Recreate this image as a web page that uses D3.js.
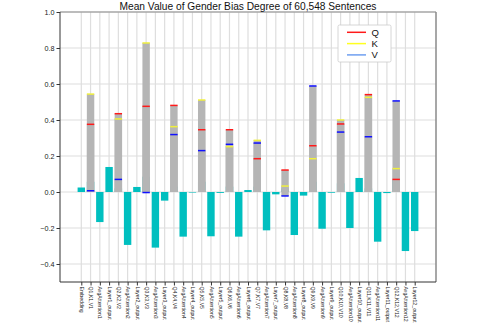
<!DOCTYPE html>
<html>
<head>
<meta charset="utf-8">
<script src="https://d3js.org/d3.v7.min.js"></script>
<style>
  body { margin: 0; background: #fff; }
  svg { display: block; font-family: "Liberation Sans", Arial, sans-serif; }
</style>
</head>
<body>
<div id="chart"></div>
<script>
// categories along the x axis
const categories = [
  'Embedding',
  'Q1,K1,V1', 'AvgAttention1', 'Layer1_output',
  'Q2,K2,V2', 'AvgAttention2', 'Layer2_output',
  'Q3,K3,V3', 'AvgAttention3', 'Layer3_output',
  'Q4,K4,V4', 'AvgAttention4', 'Layer4_output',
  'Q5,K5,V5', 'AvgAttention5', 'Layer5_output',
  'Q6,K6,V6', 'AvgAttention6', 'Layer6_output',
  'Q7,K7,V7', 'AvgAttention7', 'Layer7_output',
  'Q8,K8,V8', 'AvgAttention8', 'Layer8_output',
  'Q9,K9,V9', 'AvgAttention9', 'Layer9_output',
  'Q10,K10,V10', 'AvgAttention10', 'Layer10_output',
  'Q11,K11,V11', 'AvgAttention11', 'Layer11_output',
  'Q12,K12,V12', 'AvgAttention12', 'Layer12_output'
];

// teal bar per category
const meanValues = [
  0.025,
  0.057, -0.167, 0.139,
  0.020, -0.294, 0.028,
  0.085, -0.309, -0.048,
  0.030, -0.248, -0.003,
  0.057, -0.246, -0.005,
  0.030, -0.248, 0.011,
  0.030, -0.213, -0.013,
  0.020, -0.239, -0.020,
  0.057, -0.204, -0.004,
  0.048, -0.200, 0.078,
  0.020, -0.276, -0.006,
  0.067, -0.328, -0.217
];

// Q, K, V values for layers 1..12
const qkvLabels = ['Q1,K1,V1', 'Q2,K2,V2', 'Q3,K3,V3', 'Q4,K4,V4', 'Q5,K5,V5', 'Q6,K6,V6',
  'Q7,K7,V7', 'Q8,K8,V8', 'Q9,K9,V9', 'Q10,K10,V10', 'Q11,K11,V11', 'Q12,K12,V12'];
const qValues = [0.376, 0.435, 0.476, 0.481, 0.346, 0.346, 0.185, 0.122, 0.257, 0.378, 0.541, 0.070];
const kValues = [0.544, 0.406, 0.828, 0.363, 0.511, 0.252, 0.287, 0.033, 0.185, 0.400, 0.526, 0.130];
const vValues = [0.007, 0.070, -0.003, 0.319, 0.230, 0.265, 0.272, -0.022, 0.589, 0.333, 0.307, 0.506];

const yTicks = [-0.4, -0.2, 0.0, 0.2, 0.4, 0.6, 0.8, 1.0];

const series = [
  {name: 'Q', values: qValues, color: '#ff1a1a', legendColor: '#ff1a1a'},
  {name: 'K', values: kValues, color: '#f0f03c', legendColor: '#ffff20'},
  {name: 'V', values: vValues, color: '#1010ff', legendColor: '#6f9ff0'}
];

const width = 485, height = 326;
const margin = {top: 12, right: 49, bottom: 44, left: 60};

const svg = d3.select('#chart').append('svg')
    .attr('width', width)
    .attr('height', height);

const x = d3.scaleLinear()
    .domain([-2.3, categories.length - 1 + 2.3])
    .range([margin.left, width - margin.right]);

const y = d3.scaleLinear()
    .domain([-0.5, 1.0])
    .range([height - margin.bottom, margin.top]);

const barW = (x(1) - x(0)) * 0.8;

// grid
svg.append('g')
    .selectAll('line')
    .data(categories)
    .join('line')
    .attr('x1', (d, i) => x(i)).attr('x2', (d, i) => x(i))
    .attr('y1', y.range()[1]).attr('y2', y.range()[0])
    .attr('stroke', '#dedede')
    .attr('stroke-width', 1.2);

svg.append('g')
    .selectAll('line')
    .data(yTicks)
    .join('line')
    .attr('x1', x.range()[0]).attr('x2', x.range()[1])
    .attr('y1', d => y(d)).attr('y2', d => y(d))
    .attr('stroke', '#dedede')
    .attr('stroke-width', 1.2);

// teal bars
svg.append('g')
    .selectAll('rect')
    .data(meanValues)
    .join('rect')
    .attr('x', (d, i) => x(i) - barW / 2)
    .attr('width', barW)
    .attr('y', d => y(Math.max(0, d)))
    .attr('height', d => Math.abs(y(d) - y(0)))
    .attr('fill', '#00bfbf');

// gray bars for Q, K, V
const qkvRows = [];
series.forEach(s => {
    s.values.forEach((v, j) => {
        qkvRows.push({idx: categories.indexOf(qkvLabels[j]), value: v, color: s.color});
    });
});

svg.append('g')
    .selectAll('rect')
    .data(qkvRows)
    .join('rect')
    .attr('x', d => x(d.idx) - barW / 2)
    .attr('width', barW)
    .attr('y', d => y(Math.max(0, d.value)))
    .attr('height', d => Math.abs(y(d.value) - y(0)))
    .attr('fill', '#b5b5b5');

svg.append('g')
    .selectAll('line')
    .data(qkvRows)
    .join('line')
    .attr('x1', d => x(d.idx) - barW / 2)
    .attr('x2', d => x(d.idx) + barW / 2)
    .attr('y1', d => y(d.value))
    .attr('y2', d => y(d.value))
    .attr('stroke', d => d.color)
    .attr('stroke-width', 1.5);

// axes
const yAxis = svg.append('g')
    .attr('transform', `translate(${margin.left},0)`)
    .call(d3.axisLeft(y).tickValues(yTicks).tickFormat(d3.format('.1f')).tickSize(3.5).tickPadding(2));
yAxis.select('.domain').remove();
yAxis.selectAll('text').attr('font-size', 7.2).attr('fill', '#222').attr('font-family', 'Liberation Sans, Arial, sans-serif');
yAxis.selectAll('line').attr('stroke', '#333');

const xAxis = svg.append('g')
    .attr('transform', `translate(0,${height - margin.bottom})`)
    .call(d3.axisBottom(x).tickValues(d3.range(categories.length)).tickFormat(i => categories[i]).tickSize(3.5));
xAxis.select('.domain').remove();
xAxis.selectAll('line').attr('stroke', '#333');
xAxis.selectAll('text')
    .attr('font-size', 5.2)
    .attr('fill', '#222')
    .attr('font-family', 'Liberation Sans, Arial, sans-serif')
    .attr('text-anchor', 'start')
    .attr('transform', 'rotate(90)')
    .attr('x', 4.5)
    .attr('y', 0)
    .attr('dy', '0.35em');

// frame
const [x0, x1] = x.range();
const [yb, yt] = y.range();
svg.append('line').attr('x1', x0).attr('x2', x1).attr('y1', yt).attr('y2', yt).attr('stroke', '#8a8a8a').attr('stroke-width', 1.2);
svg.append('line').attr('x1', x1).attr('x2', x1).attr('y1', yt).attr('y2', yb).attr('stroke', '#8a8a8a').attr('stroke-width', 1.5);
svg.append('line').attr('x1', x0).attr('x2', x0).attr('y1', yt).attr('y2', yb).attr('stroke', '#333').attr('stroke-width', 1);
svg.append('line').attr('x1', x0).attr('x2', x1).attr('y1', yb).attr('y2', yb).attr('stroke', '#333').attr('stroke-width', 1);

// title
svg.append('text')
    .attr('x', (x0 + x1) / 2)
    .attr('y', 9.5)
    .attr('text-anchor', 'middle')
    .attr('font-size', 10.2)
    .attr('fill', '#111')
    .text('Mean Value of Gender Bias Degree of 60,548 Sentences');

// legend
const legend = svg.append('g').attr('transform', 'translate(338,25)');
legend.append('rect')
    .attr('width', 53).attr('height', 37)
    .attr('rx', 1.5)
    .attr('fill', '#fff')
    .attr('stroke', '#cccccc')
    .attr('stroke-width', 0.8);

const items = legend.selectAll('.item')
    .data(series)
    .join('g')
    .attr('class', 'item')
    .attr('transform', (d, i) => `translate(0,${7.3 + i * 11.3})`);
items.append('line')
    .attr('x1', 9).attr('x2', 28)
    .attr('stroke', d => d.legendColor)
    .attr('stroke-width', 1.5);
items.append('text')
    .attr('x', 33.5)
    .attr('dy', '0.35em')
    .attr('font-size', 9.5)
    .attr('fill', '#111')
    .text(d => d.name);
</script>
</body>
</html>
